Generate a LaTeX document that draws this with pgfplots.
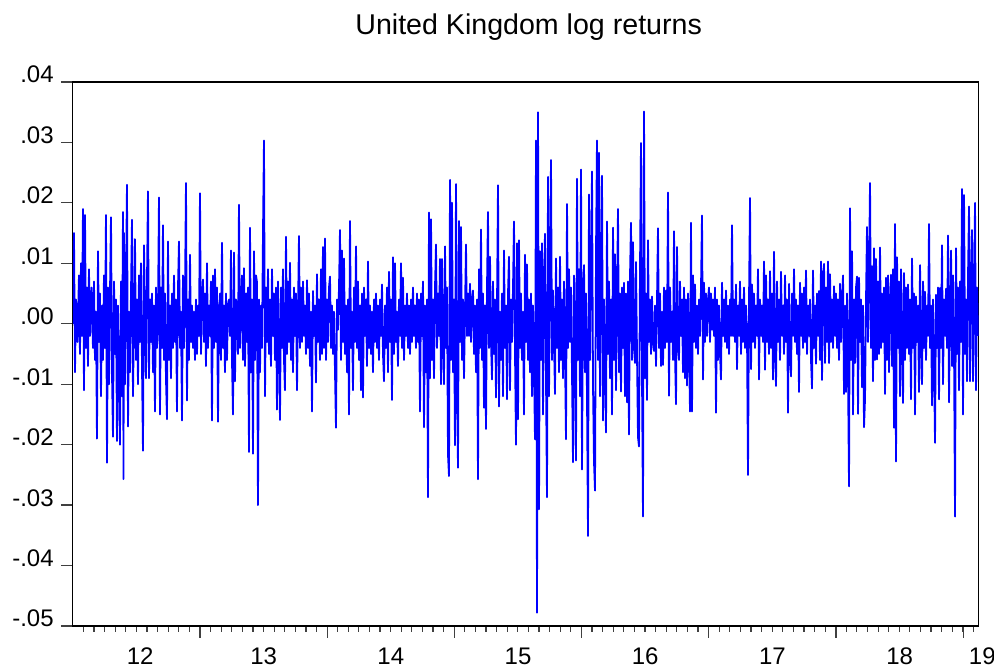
\documentclass[border=0pt]{standalone}
\usepackage{fontspec}
\setmainfont{Liberation Sans}
\usepackage{pgfplots}
\pgfplotsset{compat=1.18}
\begin{document}
\begin{tikzpicture}
\begin{axis}[name=ax,
 scale only axis, width=452.85pt, height=272pt,
 xmin=2012, xmax=2019.12, ymin=-0.05, ymax=0.04,
 scaled y ticks=false, scaled x ticks=false,
 axis line style={black, line width=0.65pt},
 xtick={2013,2014,2015,2016,2017,2018,2019}, xticklabels={},
 minor xtick={2012.083333,2012.166667,...,2019.1},
 extra x ticks={2012.53,2013.5,2014.5,2015.5,2016.5,2017.5,2018.5},
 extra x tick labels={12,13,14,15,16,17,18},
 extra x tick style={major tick length=0pt},
 ytick={-0.05,-0.04,-0.03,-0.02,-0.01,0,0.01,0.02,0.03,0.04},
 yticklabels={-.05,-.04,-.03,-.02,-.01,.00,.01,.02,.03,.04},
 xtick pos=bottom, ytick pos=left, tick align=outside,
 major tick length=6pt, minor tick length=3pt,
 tick style={black!75, line width=0.6pt},
 ticklabel style={font=\fontsize{12}{14}\selectfont},
 xticklabel style={anchor=base, inner sep=0pt, yshift=-19.2pt},
 yticklabel style={anchor=base east, inner sep=0pt, xshift=-3.4pt, yshift=-0.5pt},
 title={United Kingdom log returns},
 title style={font=\fontsize{14.3}{17}\selectfont, anchor=base, at={(0.5,1)}, yshift=17.75pt, xshift=1.5pt},
]
\addplot[color={rgb,255:red,0;green,0;blue,255}, line width=0.9pt, line join=round]
 table[row sep=\\, x expr={2012+(\thisrowno{0}-72.8)/127.2}, y index=1] {
px r\\
73 0\\74 0.015\\75 -0.008\\76 0.004\\77.5 -0.003\\79 0.008\\80 -0.005\\81 0.010\\82 -0.002\\83 0.019\\84 -0.011\\85 0.018\\86 -0.004\\87 0.006\\88 -0.007\\89 0.009\\90 -0.002\\91.5 0.006\\93 -0.004\\94 0.007\\95 -0.006\\96 0.002\\97 -0.019\\98 0.012\\99 -0.003\\100 0.005\\
101 -0.012\\102 0.003\\103 -0.006\\104 0.008\\105 -0.004\\106 0.018\\107 -0.023\\108 0.006\\109 -0.010\\110 0.005\\111 0.0176\\112 -0.008\\113 -0.0187\\114 0.007\\115 -0.005\\116 0.004\\117 -0.0194\\118 0.003\\119 -0.008\\120 -0.020\\121 0.007\\122 -0.012\\123 0.0185\\123.5 -0.0257\\124 0.015\\125 -0.010\\
126 0.006\\127 0.023\\128 -0.017\\129 0.002\\130 -0.008\\131 0.005\\132 0.0172\\133 -0.012\\134 0.001\\135 0.014\\136 -0.006\\137 0.004\\138 -0.010\\139 0.008\\140 -0.003\\141 0.010\\142 -0.007\\143 -0.021\\144 0.013\\145 0.002\\146 -0.009\\147 0.007\\148 0.0219\\149 -0.009\\150 0.004\\
151 -0.003\\152 0.005\\153 -0.008\\154 0.003\\155 -0.0145\\156 0.006\\157 -0.004\\158 0.002\\159 0.0209\\160 -0.015\\161 0.006\\162 -0.004\\163 0.0163\\164 -0.006\\165 0.005\\166 -0.009\\167 -0.0158\\168 0.0136\\169 -0.006\\170 0.003\\171 -0.009\\172 0.005\\173 -0.004\\174 0.008\\175 -0.003\\
176 0.004\\177 -0.0145\\178 0.006\\179 0.0136\\180 -0.004\\181 0.002\\182 -0.016\\183 0.008\\184 -0.004\\185 0.005\\186 0.0233\\187 -0.0127\\188 0.004\\189 -0.006\\190 0.0114\\191 -0.003\\192 0.003\\193 -0.004\\194 0.002\\195 -0.006\\196 0.004\\197 -0.005\\198 0.003\\199 -0.002\\200 0.0216\\
201 -0.005\\202 0.004\\203 0.0073\\204 -0.003\\205 0.005\\206 -0.007\\207 0.010\\208 -0.004\\209 0.003\\210 -0.002\\211 0.007\\212 -0.016\\213 0.008\\214 -0.004\\215 0.009\\216 -0.003\\217 0.006\\218 -0.0162\\219 0.002\\220 0.005\\221 -0.006\\222 0.0134\\223 -0.004\\224 0.003\\225 -0.008\\
226 0.005\\227 -0.006\\228 0.003\\229 0.004\\230 -0.002\\231 0.0121\\232 -0.006\\233 -0.015\\234 0.0118\\235 -0.0095\\236 0.004\\237 0.002\\238 -0.005\\239 0.0197\\240 -0.004\\241 0.003\\242 0.008\\243 -0.006\\244 0.0092\\245 -0.007\\246 0.005\\247 -0.003\\248 0.006\\249 -0.0212\\250 0.0159\\
251 -0.008\\252 0.004\\253 -0.0215\\254 0.012\\255 -0.006\\256 0.008\\257 0.0069\\258 -0.030\\259 0.004\\260 -0.008\\
261 0.003\\262 -0.004\\263 0.015\\264 0.0303\\265 -0.012\\266 0.006\\267 -0.003\\268 0.009\\269 -0.005\\270 0.004\\271 -0.007\\272 0.009\\273 -0.002\\274 0.005\\275 -0.006\\276 0.006\\277 -0.0142\\278 0.007\\279 -0.003\\280 -0.0159\\281 0.006\\282 -0.004\\283 0.009\\284 -0.006\\285 -0.011\\
286 0.0144\\287 -0.005\\288 0.007\\289 -0.003\\290 0.0101\\291 -0.006\\292 0.004\\293 -0.008\\294 0.006\\295 -0.002\\296 0.005\\297 -0.011\\298 0.002\\299 0.0145\\300 -0.004\\301 0.006\\302 -0.003\\303 0.007\\304 -0.002\\305 0.003\\306 -0.005\\307 0.0072\\308 -0.004\\309 0.005\\310 -0.007\\
311 0.002\\312 -0.0145\\313 0.0054\\314 -0.002\\315 0.003\\316 -0.0097\\317 0.0082\\318 -0.003\\319 0.004\\320 -0.006\\321 0.009\\322 -0.005\\323 0.0127\\324 -0.004\\325 0.0141\\326 -0.006\\327 0.004\\328 -0.003\\329 0.006\\330 0.0078\\331 -0.004\\332 0.003\\333 -0.005\\334 0.002\\335 -0.008\\
336 -0.0172\\337 0.004\\338 -0.001\\339 0.006\\340 0.0155\\341 -0.006\\342 0.0121\\343 -0.003\\344 0.0108\\345 -0.005\\346 0.003\\347 -0.008\\348 0.004\\349 -0.015\\350 0.017\\351 -0.004\\352 0.002\\353 -0.011\\354 0.006\\355 -0.003\\356 0.0128\\357 -0.004\\358 0.007\\359 -0.006\\360 0.003\\
361 -0.011\\362 0.005\\363 -0.0122\\364 0.006\\365 -0.002\\366 0.004\\367 -0.007\\368 0.0103\\369 -0.004\\370 0.003\\371 -0.005\\372 0.002\\373 -0.008\\374 0.004\\375 -0.003\\376 0.005\\377 -0.004\\378 0.003\\379 -0.006\\380 0.004\\381 -0.002\\382 0.0065\\383 -0.005\\384 -0.0095\\385 0.003\\
386 -0.004\\387 0.006\\388 -0.008\\389 0.0086\\390 -0.003\\391 0.004\\392 -0.0126\\393 0.011\\394 -0.005\\395 0.01\\396 -0.003\\397 0.002\\398 -0.007\\399 0.004\\400 -0.002\\401 0.01\\402 -0.004\\403 0.0076\\404 -0.006\\405 0.003\\406 -0.002\\407 0.005\\408 -0.004\\409 0.003\\410 -0.005\\
411 0.004\\412 -0.003\\413 0.006\\414 -0.002\\415 0.003\\416 -0.004\\417 0.005\\418 -0.003\\419 0.004\\420 -0.0145\\421 0.005\\422 -0.002\\423 0.007\\424 -0.0171\\425 0.003\\426 -0.008\\427 0.004\\428 -0.0287\\429 0.0184\\430 -0.009\\431 0.0173\\432 -0.006\\433 0.004\\434 -0.009\\435 0.006\\
436 0.0131\\437 -0.004\\438 0.005\\439 -0.002\\440 0.0107\\441 -0.01\\442 0.0107\\
443 -0.003\\444 -0.01\\445 0.0128\\446 -0.004\\447 0.006\\448 -0.0216\\449 -0.0252\\450 0.0238\\451 -0.006\\452 0.020\\453 -0.008\\454 0.004\\455 -0.0201\\456 0.0231\\457 -0.009\\458 -0.0238\\459 0.017\\460 -0.003\\461 0.016\\462 -0.006\\463 0.004\\464 -0.009\\465 0.002\\466 0.0131\\467 -0.002\\
468 0.005\\469 -0.002\\470 0.0066\\471 -0.003\\472 0.004\\473 0.0055\\474 -0.005\\475 0.003\\476 -0.008\\477 0.004\\478 -0.0257\\479 0.009\\480 -0.004\\481 0.0156\\482 -0.006\\483 0.005\\484 -0.0139\\485 0.003\\486 -0.0174\\487 0.006\\488 0.0185\\489 -0.004\\490 0.0111\\491 -0.003\\492 -0.0092\\
493 0.007\\494 -0.005\\495 0.004\\496 -0.0122\\497 0.003\\498 0.0229\\499 -0.0137\\500 0.002\\501 -0.006\\502 0.005\\503 -0.012\\504 0.0121\\505 -0.004\\506 0.003\\507 -0.0125\\508 0.005\\509 0.0111\\510 -0.011\\511 0.004\\512 -0.003\\513 0.006\\514 0.0169\\515 -0.005\\516 -0.020\\517 0.0133\\
518 -0.0158\\519 0.0138\\520 -0.004\\521 0.005\\522 -0.006\\523 0.002\\524 -0.015\\525 0.0114\\526 -0.003\\527 0.0098\\528 -0.006\\529 0.004\\530 -0.008\\531 0.005\\532 -0.012\\533 0.003\\534 -0.007\\535 -0.0191\\536 0.0303\\537 -0.0478\\538 0.035\\539 -0.0307\\540 0.012\\541 -0.006\\542 0.0133\\
543 -0.015\\544 0.006\\545 0.0149\\546 -0.009\\547 -0.0287\\548 0.0243\\549 -0.012\\550 0.009\\551 0.0271\\552 -0.006\\553 0.0055\\554 -0.003\\555 -0.0116\\556 0.0108\\557 -0.004\\558 0.006\\559 -0.008\\560 0.0111\\561 -0.006\\562 0.004\\563 -0.009\\564 0.007\\565 -0.005\\566 -0.0191\\567 0.0198\\
568 -0.004\\569 0.009\\570 -0.003\\571 0.006\\572 -0.008\\573 -0.0229\\574 0.008\\575 -0.004\\576 -0.0226\\577 0.024\\578 -0.006\\579 0.009\\580 -0.012\\581 0.0255\\582 -0.0241\\583 0.004\\584 0.0097\\585 -0.008\\586 0.005\\587 -0.012\\588 -0.0351\\589 0.0214\\590 -0.006\\591 0.008\\592 0.0252\\
593 -0.01\\594 -0.0229\\595 -0.0276\\596 0.012\\597 0.0303\\598 -0.006\\599 0.0283\\600 -0.012\\601 0.009\\602 0.0245\\603 -0.016\\604 0.004\\605 -0.008\\606 -0.018\\607 0.0169\\608 -0.005\\609 0.007\\610 -0.009\\611 0.004\\612 -0.015\\613 0.0159\\614 -0.006\\615 0.0115\\616 -0.011\\617 0.004\\
618 0.019\\619 -0.008\\620 0.005\\621 -0.0112\\622 0.006\\623 -0.004\\624 0.0068\\625 -0.012\\626 0.005\\627 -0.013\\628 0.007\\629 -0.0183\\630 0.008\\
631 0.0167\\632 -0.006\\633 0.0135\\634 -0.004\\635 -0.0065\\636 0.0102\\637 -0.005\\638 -0.0188\\639 -0.0203\\640 0.009\\641 0.0299\\642 -0.009\\643 -0.0319\\644 0.0351\\645 -0.009\\646 0.005\\647 -0.0126\\648 0.0138\\649 -0.003\\650 0.004\\651 -0.005\\652 0.0045\\653 -0.003\\654 -0.0045\\655 0.003\\
656 -0.007\\657 0.004\\658 0.0158\\659 -0.004\\660 0.005\\661 -0.007\\662 0.002\\663 -0.0068\\664 0.006\\665 -0.004\\666 0.0055\\667 -0.003\\668 0.0217\\669 -0.0119\\670 0.006\\671 -0.003\\672 0.002\\673 -0.006\\674 0.0153\\675 -0.005\\676 -0.0133\\677 0.0127\\678 -0.004\\679 -0.006\\680 0.007\\
681 -0.002\\682 0.004\\683 -0.008\\684 0.006\\685 -0.009\\686 0.004\\687 -0.0102\\688 0.005\\689 -0.004\\690 -0.0145\\691 0.0167\\692 -0.0145\\693 0.008\\694 -0.003\\695 0.0065\\696 -0.004\\697 0.003\\698 -0.005\\699 0.004\\700 -0.002\\701 0.006\\702 0.0179\\703 -0.0092\\704 0.0068\\705 -0.003\\
706 0.005\\707 -0.002\\708 0.004\\709 0.006\\710 -0.003\\711 0.005\\712 -0.001\\713 0.004\\714 -0.002\\715 0.006\\716 -0.0147\\717 0.004\\718 -0.006\\719 0.003\\720 -0.005\\721 -0.0092\\722 0.0068\\723 -0.002\\724 0.004\\725 -0.003\\726 0.0055\\727 -0.004\\728 0.003\\729 -0.005\\730 0.004\\
731 -0.002\\732 0.0163\\733 -0.002\\734 0.004\\735 -0.003\\736 0.0065\\737 -0.0075\\738 0.003\\739 -0.002\\740 0.007\\741 -0.005\\742 0.004\\743 -0.003\\744 0.006\\745 -0.004\\746 0.003\\747 -0.002\\748 -0.025\\749 0.004\\750 0.0208\\751 -0.0075\\752 0.0065\\753 -0.003\\754 0.005\\755 -0.004\\
756 0.003\\757 -0.002\\758 0.009\\759 -0.0092\\760 0.004\\761 -0.002\\762 0.003\\763 -0.003\\764 0.0103\\765 -0.0076\\766 0.008\\767 -0.003\\768 0.004\\769 -0.005\\770 0.0087\\771 -0.004\\772 0.005\\773 -0.0092\\774 0.0119\\775 -0.004\\776 -0.0103\\777 0.007\\778 -0.003\\779 0.004\\780 -0.006\\
781 0.0086\\782 -0.002\\783 0.003\\784 -0.005\\785 0.008\\786 -0.003\\787 0.004\\788 -0.0147\\789 0.0066\\790 -0.004\\791 -0.0087\\792 0.005\\793 -0.002\\794 0.009\\795 -0.003\\796 0.004\\797 -0.005\\798 0.003\\799 -0.0113\\800 0.0068\\
801 -0.002\\802 0.005\\803 -0.004\\804 0.006\\805 -0.003\\806 0.0088\\807 -0.005\\808 0.003\\809 -0.002\\810 0.004\\811 -0.006\\812 -0.0107\\813 0.0088\\814 -0.004\\815 0.003\\816 -0.0066\\817 0.005\\818 -0.002\\819 0.0054\\820 -0.006\\821 0.0103\\822 -0.0093\\823 0.008\\824 0.0099\\825 -0.0065\\
826 0.006\\827 -0.003\\828 0.0103\\829 -0.0065\\830 0.0082\\831 -0.003\\832 0.004\\833 -0.004\\834 0.0062\\835 -0.002\\836 0.005\\837 -0.004\\838 0.004\\839 -0.006\\840 0.0066\\841 -0.003\\842 0.004\\843 0.008\\844 -0.0116\\845 0.003\\846 -0.0113\\847 0.005\\848 -0.008\\849 -0.0269\\850 0.0191\\
851 -0.006\\852 0.012\\853 -0.015\\854 0.004\\855 -0.0065\\856 0.006\\857 0.0078\\858 -0.0149\\859 0.0076\\860 -0.003\\861 0.004\\862 -0.0105\\863 0.003\\864 -0.0171\\865 -0.0125\\866 0.004\\867 0.016\\868 -0.003\\869 0.008\\870 0.0233\\871 -0.004\\872 0.0095\\873 -0.0095\\874 0.0125\\875 -0.006\\
876 0.0107\\877 -0.0059\\878 0.007\\879 -0.005\\880 0.0126\\881 -0.004\\882 0.005\\883 -0.003\\884 0.006\\885 -0.0116\\886 0.0076\\887 -0.006\\888 0.008\\889 -0.008\\890 0.003\\891 0.0081\\892 -0.007\\893 0.009\\894 -0.0172\\895 0.0165\\896 -0.0228\\897 0.011\\898 -0.004\\899 0.007\\900 -0.012\\
901 0.009\\902 -0.003\\903 -0.0131\\904 0.0084\\905 -0.006\\906 0.006\\907 -0.004\\908 0.0065\\909 -0.005\\910 0.004\\911 -0.0125\\912 0.0108\\913 -0.004\\914 0.005\\915 -0.015\\916 0.0045\\917 -0.003\\918 0.003\\919 -0.0113\\920 0.0097\\921 -0.003\\922 -0.01\\923 0.007\\924 -0.004\\925 0.0053\\
926 -0.006\\927 0.003\\928 -0.002\\929 0.0165\\930 -0.004\\931 0.003\\932 -0.0135\\933 0.004\\934 -0.006\\935 -0.0197\\936 0.0048\\937 -0.004\\938 0.006\\939 -0.0125\\940 0.0059\\941 -0.004\\942 0.013\\943 -0.01\\944 0.004\\945 -0.002\\946 0.0058\\947 -0.004\\948 0.0146\\949 -0.013\\950 0.003\\
951 0.0121\\952 -0.007\\953 0.008\\954 -0.004\\955 -0.0319\\956 0.0125\\957 -0.005\\958 0.006\\959 -0.011\\960 0.007\\961 -0.003\\962 0.0223\\963 -0.015\\964 0.0213\\965 -0.005\\966 0.004\\967 -0.0095\\968 0.008\\969 0.0194\\970 -0.0095\\971 0.007\\972 0.0155\\973 -0.0095\\974 0.004\\975 0.020\\
976 -0.011\\977 0.006\\978 -0.002\\
};
\coordinate (c19) at (axis cs:2019.15,-0.05);
\end{axis}
\node[anchor=base, inner sep=0pt, font=\fontsize{12}{14}\selectfont] at ([yshift=-19.2pt]c19) {19};
\pgfresetboundingbox
\path[use as bounding box] ([xshift=-36.4pt,yshift=-20.5pt]ax.south west) rectangle ([xshift=7.75pt,yshift=41pt]ax.north east);
\end{tikzpicture}
\end{document}
